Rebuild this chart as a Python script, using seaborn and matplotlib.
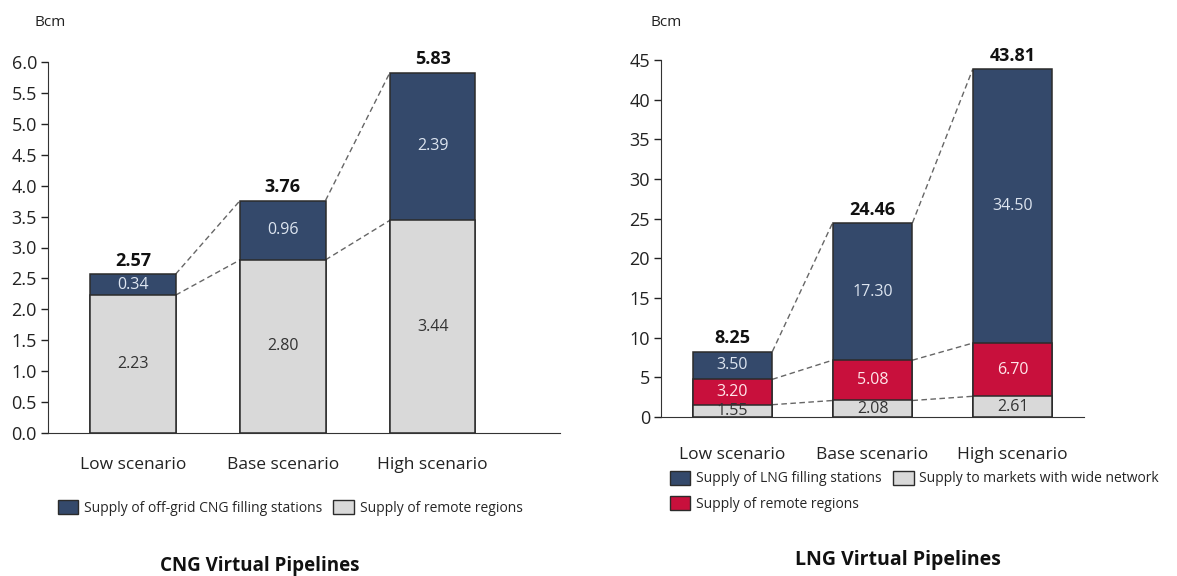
import numpy as np
import pandas as pd
import matplotlib
matplotlib.use('Agg')
import matplotlib.pyplot as plt
from matplotlib.patches import Patch
import seaborn as sns

sns.set_style('white')
plt.rcParams['font.family'] = ['Open Sans', 'DejaVu Sans']

# 数据
scenarios = ['Low scenario', 'Base scenario', 'High scenario']

cng_remote = [2.23, 2.80, 3.44]
cng_stations = [0.34, 0.96, 2.39]
cng_total = [2.57, 3.76, 5.83]

lng_network = [1.55, 2.08, 2.61]
lng_remote = [3.20, 5.08, 6.70]
lng_stations = [3.50, 17.30, 34.50]
lng_total = [8.25, 24.46, 43.81]

NAVY = '#34496b'
GREY = '#d9d9d9'
RED = '#c8103c'
EDGE = '#2b2b2b'
BAR_W = 0.57

W, H = 1177, 576
fig = plt.figure(figsize=(W / 100, H / 100), dpi=100)


def px_axes(x0, y0, x1, y1):
    return fig.add_axes([x0 / W, 1 - y1 / H, (x1 - x0) / W, (y1 - y0) / H])


def stacked(ax, layers, colors, label_colors, totals):
    # 从上到下叠加累计值
    cum = np.cumsum(np.array(layers), axis=0)
    for level, col in zip(cum[::-1], colors[::-1]):
        df = pd.DataFrame({'scenario': scenarios, 'value': level})
        sns.barplot(data=df, x='scenario', y='value', color=col, width=BAR_W,
                    edgecolor=EDGE, linewidth=1.1, saturation=1, ax=ax)
    # 段内数值
    for k, (vals, tc) in enumerate(zip(layers, label_colors)):
        base = cum[k] - np.array(vals)
        for i, v in enumerate(vals):
            ax.text(i, base[i] + v / 2, f'{v:.2f}', ha='center', va='center',
                    fontsize=11.5, color=tc)
    # 总量
    top = ax.get_ylim()[1]
    for i, t in enumerate(totals):
        ax.text(i, t + top * 0.012, f'{t:.2f}', ha='center', va='bottom',
                fontsize=13, fontweight='bold', color='#111111')
    # 虚线连接
    for level in cum:
        for i in range(len(scenarios) - 1):
            ax.plot([i + BAR_W / 2, i + 1 - BAR_W / 2], [level[i], level[i + 1]],
                    ls=(0, (4, 2.5)), color='#666666', lw=1.0, zorder=0.5)


def style(ax):
    sns.despine(ax=ax)
    ax.spines['left'].set_color('#333333')
    ax.spines['bottom'].set_color('#333333')
    ax.set_xlabel('')
    ax.set_ylabel('')
    ax.tick_params(axis='y', left=True, length=5, width=1, colors='#222222',
                   labelsize=13, pad=3)
    ax.tick_params(axis='x', bottom=False, labelsize=12.5, colors='#222222', pad=14)


# CNG
ax1 = px_axes(48, 62, 560, 433)
ax1.set_ylim(0, 6.0)
stacked(ax1, [cng_remote, cng_stations], [GREY, NAVY], ['#333333', '#dde5f0'], cng_total)
ax1.set_ylim(0, 6.0)
ax1.set_xlim(-0.567, 2.85)
ax1.set_yticks(np.arange(0, 6.01, 0.5))
ax1.set_yticklabels([f'{v:.1f}' for v in np.arange(0, 6.01, 0.5)])
style(ax1)
fig.text(35 / W, 1 - 22 / H, 'Bcm', fontsize=11, va='center', color='#222222')
ax1.legend(handles=[Patch(facecolor=NAVY, edgecolor=EDGE, label='Supply of off-grid CNG filling stations'),
                    Patch(facecolor=GREY, edgecolor=EDGE, label='Supply of remote regions')],
           loc='center left', bbox_to_anchor=(52 / W, 1 - 508 / H), bbox_transform=fig.transFigure,
           ncol=2, frameon=False, fontsize=10, handlelength=1.5, handleheight=1.2,
           handletextpad=0.4, columnspacing=0.8, borderaxespad=0)
fig.text(260 / W, 1 - 566 / H, 'CNG Virtual Pipelines', fontsize=13.5, fontweight='bold',
         ha='center', va='center', color='#111111')

# LNG
ax2 = px_axes(661, 60, 1084, 417)
ax2.set_ylim(0, 45)
stacked(ax2, [lng_network, lng_remote, lng_stations], [GREY, RED, NAVY],
        ['#333333', '#ffe6ea', '#dde5f0'], lng_total)
ax2.set_ylim(0, 45)
ax2.set_xlim(-0.51, 2.51)
ax2.set_yticks(np.arange(0, 46, 5))
style(ax2)
ax2.tick_params(axis='x', pad=18)
fig.text(650 / W, 1 - 22 / H, 'Bcm', fontsize=11, va='center', color='#222222')
ax2.legend(handles=[Patch(facecolor=NAVY, edgecolor=EDGE, label='Supply of LNG filling stations'),
                    Patch(facecolor=RED, edgecolor=EDGE, label='Supply of remote regions'),
                    Patch(facecolor=GREY, edgecolor=EDGE, label='Supply to markets with wide network')],
           loc='upper left', bbox_to_anchor=(664 / W, 1 - 465 / H), bbox_transform=fig.transFigure,
           ncol=2, frameon=False, fontsize=10, handlelength=1.5, handleheight=1.2,
           handletextpad=0.4, columnspacing=0.8, labelspacing=0.7, borderaxespad=0)
fig.text(898 / W, 1 - 560 / H, 'LNG Virtual Pipelines', fontsize=14, fontweight='bold',
         ha='center', va='center', color='#111111')

fig.savefig('out.png', dpi=100)
